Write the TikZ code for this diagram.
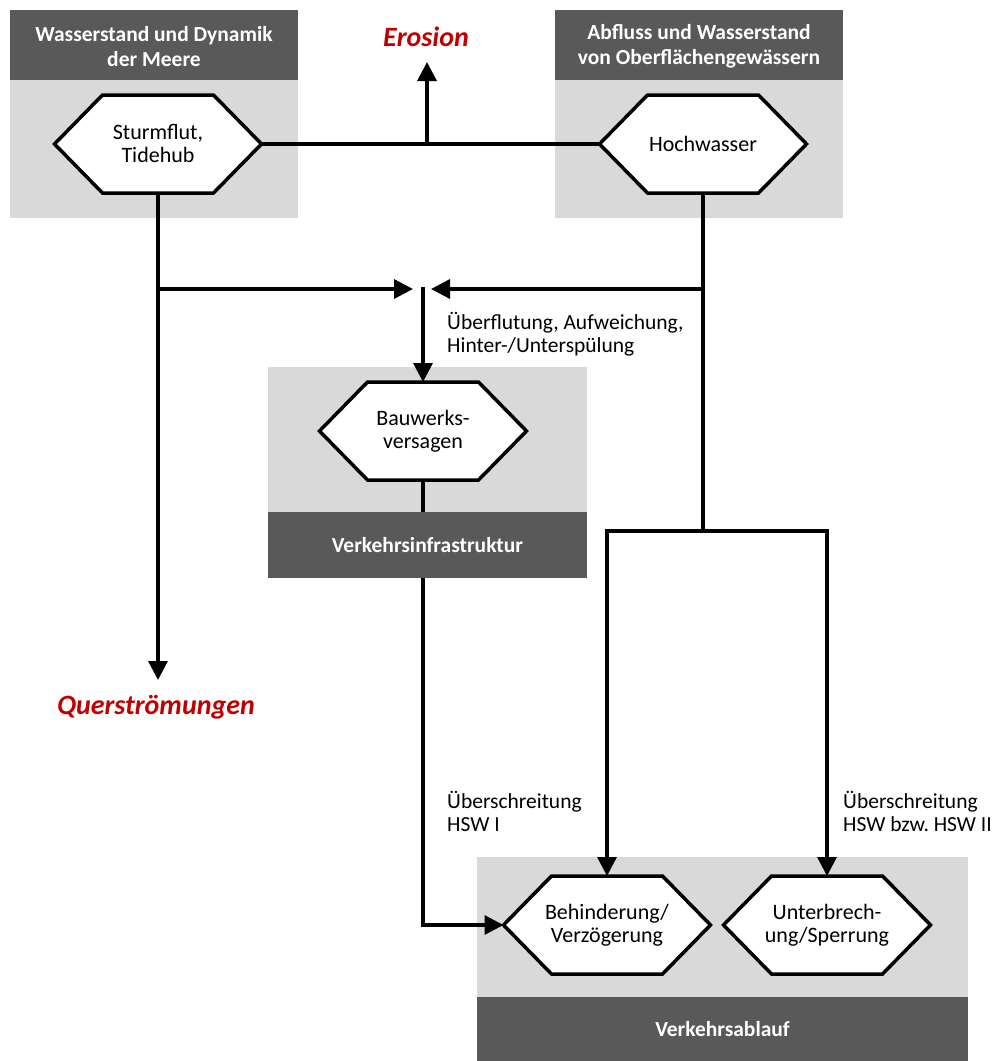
\documentclass[tikz,border=0pt]{standalone}
\usepackage{fontspec}
\setmainfont{Carlito}
\usetikzlibrary{arrows.meta}

\definecolor{barGray}{HTML}{595959}
\definecolor{panelGray}{HTML}{D9D9D9}
\definecolor{alertRed}{HTML}{C00000}

\pgfdeclarelayer{panels}
\pgfdeclarelayer{top}
\pgfsetlayers{panels,main,top}

\tikzset{
  panel/.style={fill=panelGray, draw=none},
  bar/.style={fill=barGray, draw=none, text=white, align=center, inner sep=0pt, outer sep=0pt,
    font=\fontsize{21.5}{25.5}\selectfont\bfseries},
  hexline/.style={draw=black, fill=white, line width=3.5pt, line join=miter},
  hexlabel/.style={font=\fontsize{22}{23}\selectfont, align=center, inner sep=0pt, outer sep=0pt,
    minimum width=207pt, minimum height=98pt},
  flow/.style={line width=3.3pt, line cap=rect},
  flowarrow/.style={flow, -{Triangle[length=19pt,width=19pt]}},
  note/.style={font=\fontsize{21.5}{23}\selectfont, align=left, inner sep=0pt, anchor=west},
  effect/.style={text=alertRed, font=\fontsize{28}{30}\selectfont\bfseries\itshape, inner sep=0pt},
}

% hexagonal process box: name, centre x, centre y, label
\newcommand{\hexbox}[4]{%
  \draw[hexline] (#2-103.5,#3) -- (#2-55.5,#3-49) -- (#2+55.5,#3-49) -- (#2+103.5,#3)
    -- (#2+55.5,#3+49) -- (#2-55.5,#3+49) -- cycle;
  \node[hexlabel] (#1) at (#2,#3) {#4};
}

\begin{document}
\begin{tikzpicture}[x=1pt,y=-1pt]
\useasboundingbox (0,0) rectangle (994,1061);

% light grey group panels
\begin{pgfonlayer}{panels}
  \fill[panel] (10,80) rectangle (298,218);
  \fill[panel] (555,80) rectangle (843,218);
  \fill[panel] (268,367) rectangle (587,512);
  \fill[panel] (477,857) rectangle (968,997);
\end{pgfonlayer}

% dark title bars and hexagonal boxes
\begin{pgfonlayer}{top}
  \node[bar, minimum width=288pt, minimum height=70pt] (hdrSea) at (154,45)
    {\strut Wasserstand und Dynamik\\der Meere};
  \node[bar, minimum width=288pt, minimum height=70pt] (hdrRiver) at (699,45)
    {\strut Abfluss und Wasserstand\\von Oberflächengewässern};
  \node[bar, minimum width=319pt, minimum height=66pt] (hdrInfra) at (427.5,545)
    {Verkehrsinfrastruktur};
  \node[bar, minimum width=491pt, minimum height=64pt] (hdrTraffic) at (722.5,1029)
    {Verkehrsablauf};

  \hexbox{sturm}{158}{144}{Sturmflut,\\Tidehub}
  \hexbox{hoch}{703}{144}{Hochwasser}
  \hexbox{bau}{423}{431}{Bauwerks-\\versagen}
  \hexbox{beh}{607}{925}{Behinderung/\\Verzögerung}
  \hexbox{unt}{827}{925}{Unterbrech-\\ung/Sperrung}
\end{pgfonlayer}

% effects and labels
\node[effect] (ero) at (426,37) {Erosion};
\node[effect] (quer) at (156,707) {Querströmungen};
\node[note] (lblBau) at (447,334.5) {Überflutung, Aufweichung,\\Hinter-/Unterspülung};
\node[note] (lblHswI) at (447,811.5) {Überschreitung\\HSW I};
\node[note] (lblHswII) at (843,811.5) {Überschreitung\\HSW bzw.~HSW II};

% junctions and free ends
\coordinate (jEro) at (427,144);
\coordinate (eroTip) at (427,62);
\coordinate (querTip) at (158,680);
\coordinate (jSeaMid) at (158,289);
\coordinate (jFloodMid) at (703,289);
\coordinate (jMerge) at (423,289);
\coordinate (tipL) at (413,289);
\coordinate (tipR) at (431,289);
\coordinate (jFlood) at (703,531);
\coordinate (jBeh) at (607,531);
\coordinate (jUnt) at (827,531);
\coordinate (bend) at (423,925);

% connectors
\draw[flow] (sturm.east) -- (hoch.west);
\draw[flowarrow] (jEro) -- (eroTip);
\draw[flowarrow] (sturm.south) -- (querTip);
\draw[flowarrow] (jSeaMid) -- (tipL);
\draw[flowarrow] (jFloodMid) -- (tipR);
\draw[flowarrow] (jMerge) -- (bau.north);
\draw[flow] (hoch.south) -- (jFlood);
\draw[flow] (jBeh) -- (jUnt);
\draw[flowarrow] (jBeh) -- (beh.north);
\draw[flowarrow] (jUnt) -- (unt.north);
\draw[flowarrow] (bau.south) -- (bend) -- (beh.west);
\end{tikzpicture}
\end{document}
